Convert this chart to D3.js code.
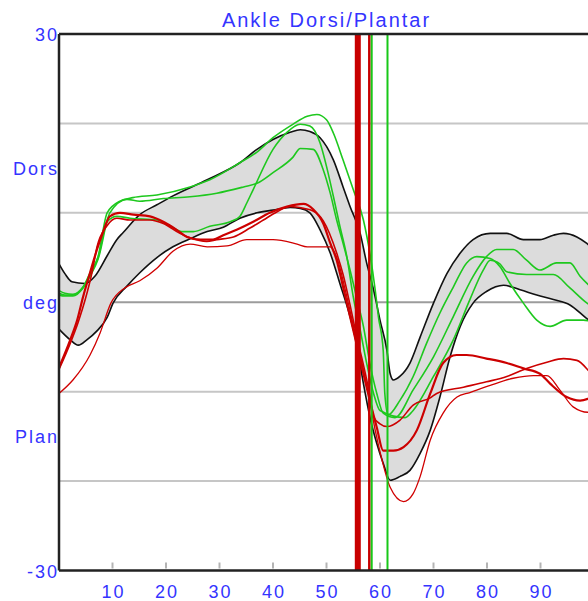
<!DOCTYPE html>
<html>
<head>
<meta charset="utf-8">
<script src="https://cdn.jsdelivr.net/npm/d3@7"></script>
<style>
  body { margin: 0; background: #fff; }
  svg { display: block; }
  text { font-family: "Liberation Sans", Arial, sans-serif; fill: #3434ff; letter-spacing: 2px; }
</style>
</head>
<body>
<svg width="588" height="601"></svg>
<script>
// Gait cycle (%) against ankle angle (deg). Each curve is a list of [pct, deg].

// Normal range band.
const bandUpper = [
  [0, 4.3], [1.1, 3.2], [2.4, 2.3], [4.9, 2.1], [6.7, 2.9], [9, 5.2], [10.8, 7], [12, 7.8],
  [15.1, 9.8], [18.3, 10.9], [21.3, 11.9], [27.7, 13.7], [33.8, 15.6], [37, 17.1], [40, 18.2],
  [43.2, 19], [45.1, 19.3], [46.9, 19.1], [48.8, 18.4], [51.3, 15.9], [53.1, 12.9], [54.4, 10.7],
  [56.3, 7.7], [57.5, 4.4], [58.8, 1.4], [60, -2], [61.3, -5.4], [61.9, -8], [62.5, -8.7],
  [63.7, -8.3], [65.6, -6.8], [67.5, -3.9], [70, -0.1], [72.5, 3.2], [75, 5.5], [77.4, 7],
  [80.6, 7.7], [83.7, 7.7], [86.8, 7], [89.9, 7], [92.4, 7.5], [94.3, 7.7], [96.8, 7.3],
  [98.6, 6.6], [100, 5.9]
];
const bandLower = [
  [0, -3], [2.1, -4.2], [3.6, -4.8], [5.2, -4.2], [7.1, -3.2], [9, -1.7], [10.1, -0.1],
  [12.7, 1.8], [15.1, 3.3], [18.3, 5], [21.3, 6.2], [24.5, 7.1], [27.7, 7.9], [30.7, 8.4],
  [33.8, 9.4], [37, 10], [40, 10.3], [43.2, 10.6], [45.1, 10.5], [46.9, 10], [48.8, 8.1],
  [50.7, 5.5], [52.5, 2.1], [54.4, -1.6], [55.6, -4.6], [56.9, -9.1], [58.1, -12.8],
  [59.4, -15.8], [60.6, -18], [61.9, -19.9], [63.7, -19.5], [65.6, -18.8], [67.5, -16.9],
  [69.4, -14.3], [71.2, -10.6], [73.1, -6.1], [75, -2.7], [77.4, -0.1], [79.9, 1.2],
  [83.1, 1.9], [86.2, 1.4], [89.3, 0.8], [92.4, 0.3], [95.5, -0.3], [98.6, -1.8], [100, -2.4]
];

// Green trials.
const green1 = [
  [0, 1.3], [1.1, 1], [2.6, 0.9], [4.5, 1.7], [5.8, 3.3], [7.3, 5.1], [9, 10], [11.4, 11.3],
  [13.8, 11.7], [18.3, 12], [24.5, 12.9], [28.2, 13.7], [33.8, 15.6], [37, 16.8], [40, 18.4],
  [43.7, 19.9], [46.4, 20.8], [48.2, 21], [50, 20.4], [51.3, 18.9], [53.1, 15.9], [55, 12.6],
  [56.9, 9.2], [58.1, 5.5], [59.1, 1.4], [59.7, -1.6], [60.6, -5.4], [60.9, -10.2], [61.5, -12.6],
  [63.7, -11], [66.2, -8.3], [68.7, -4.6], [71.2, -1.2], [73.7, 1.7], [76.2, 4.4], [78.1, 5.1],
  [80.6, 4.9], [82.4, 4], [84.3, 2.1], [86.8, -0.1], [89.3, -2], [91.8, -2.7], [94.9, -2],
  [98, -2], [100, -2.2]
];
const green2 = [
  [0, 0.8], [1.1, 0.7], [2.6, 0.7], [4.5, 1.6], [5.8, 2.9], [7.3, 4.8], [9.5, 10], [12.7, 11.5],
  [15.1, 11.3], [19.5, 11.6], [24.5, 11.8], [29.5, 12.2], [34.5, 12.9], [37, 13.3], [40, 14.5],
  [43.7, 16.2], [45.1, 17.2], [47.5, 17.1], [49.4, 14.8], [50.7, 12.2], [51.9, 9.2], [53.1, 6.6],
  [54.4, 3.6], [55.6, 0.6], [56.9, -2.7], [58.1, -6.8], [59.4, -10.2], [60.6, -12.4], [62.8, -12.9],
  [66.2, -9.8], [70, -6.1], [73.7, -1.6], [77.4, 2.9], [79.9, 5.1], [81.8, 5.9], [84.9, 5.9],
  [87.4, 4.7], [89.9, 3.6], [93, 4.4], [95.5, 4.4], [97.4, 2.9], [100, 1.4]
];
const green3 = [
  [0, 1], [1.1, 0.8], [2.6, 0.8], [4.5, 1.7], [5.8, 3.1], [7.3, 5], [9, 9], [10.8, 9.6],
  [13.3, 9.4], [18.3, 9.2], [20.8, 8.5], [23.2, 7.9], [25.1, 7.9], [28.2, 8.5], [32, 9],
  [33.8, 9.6], [35.1, 11.1], [36.3, 12.6], [40, 17.1], [42.6, 19], [45.1, 19.9], [46.9, 19.7],
  [48.8, 17.8], [50, 15.2], [51.3, 11.8], [52.5, 8.5], [53.8, 5.1], [55, 0.6], [56.3, -3.1],
  [57.5, -6.8], [58.8, -10.2], [60, -12.1], [64.7, -12.9], [66.2, -12.1], [70, -8.3],
  [73.7, -4.2], [76.8, 0.3], [79.3, 3.6], [80.6, 4.7], [82.4, 4.3], [83.7, 3.4], [87.4, 3.1],
  [92.4, 3.1], [95.5, 1.6], [98.7, -0.1], [100, -0.6]
];

// Red trials.
const red1 = [
  [0, -7.3], [2.1, -4.2], [3.4, -2], [4.5, 0.6], [5.8, 3.3], [7.1, 5.9], [8.2, 7.8], [9.5, 9.6],
  [11.4, 10], [13.9, 9.8], [17, 9.6], [19.5, 9], [22, 8.1], [23.9, 7.3], [26.4, 7], [28.8, 7],
  [30.7, 7.5], [33.2, 8.1], [36.3, 9], [39.4, 10], [42.6, 10.7], [45.7, 11], [47.5, 10.4],
  [49.4, 8.8], [50.7, 6.6], [51.9, 4.7], [53.1, 1.7], [54.4, -1.6], [55.6, -4.6], [56.9, -8],
  [58.1, -11], [59.4, -14], [60.6, -16.6], [62.5, -16.6], [64.4, -16.2], [66.9, -14.3],
  [69.4, -10.2], [71.8, -6.8], [74.3, -5.9], [76.2, -5.9], [79.9, -6.3], [83.7, -6.8],
  [86.8, -7.4], [89.9, -8], [91.8, -9.1], [94.9, -10.6], [97.4, -11], [100, -10.5]
];
const red2 = [
  [0, -7.5], [2.1, -4.6], [3.6, -2.2], [4.9, 0.3], [6.2, 3.4], [7.1, 6.2], [8.9, 8.5],
  [10.8, 9.4], [13.3, 9.2], [17, 9.2], [19.5, 8.8], [22.6, 7.7], [24.5, 7.2], [27.6, 6.8],
  [29.5, 7], [32.6, 7.3], [35.7, 8.3], [38.2, 9.2], [40.7, 10.1], [43.2, 10.7], [45.7, 10.5],
  [47.5, 10.2], [49.4, 9.1], [51.9, 5.5], [53.1, 3.1], [54.4, -0.3], [55.6, -3.7], [56.9, -7],
  [58.1, -10.4], [58.8, -12.8], [60, -13.6], [61.3, -13.9], [63.7, -13.2], [66.2, -11.5],
  [69.4, -10.7], [70.6, -10.2], [75.6, -9.5], [79.9, -8.9], [83.7, -8.3], [87.4, -7.4],
  [91.2, -6.7], [94.3, -6.3], [96.8, -6.5], [98.9, -7.6], [100, -8.4]
];
const red3 = [
  [0, -10.2], [2.6, -8.7], [5.8, -5.9], [7.7, -3.4], [9.7, -0.1], [12.3, 1.6], [15.1, 2.4],
  [18.3, 3.8], [21.3, 5.7], [24.5, 6.5], [27.7, 6.2], [31.4, 6.3], [35.1, 7], [40, 7],
  [44.5, 6.5], [46.4, 6.2], [50.7, 6.2], [52.2, 4.5], [53.5, 1.4], [54.8, -2], [56.3, -5.9],
  [57.8, -10.1], [59.1, -14.3], [60.4, -17.7], [61.9, -20.7], [64.4, -22.3], [66.2, -21.4],
  [67.5, -19.5], [69.4, -15.4], [71.8, -12.4], [74.4, -10.6], [76.8, -10.1], [80.6, -9.3],
  [84.9, -8.5], [88.7, -8.2], [91.2, -8.2], [93.6, -9.8], [96.1, -11.7], [98.9, -12.3], [100, -12.2]
];

// Toe-off markers (pct) and their stroke widths.
const toeOffRed = [55.85, 58.0];
const toeOffRedWidth = [6, 2.5];
const toeOffGreen = [58.45, 61.4];

const xTicks = [10, 20, 30, 40, 50, 60, 70, 80, 90];
const gridValues = [20, 10, -10, -20];
const yLabels = [[30, "30"], [15, "Dors"], [0, "deg"], [-15, "Plan"], [-30, "-30"]];

function initGraph() {
  const svg = d3.select("svg");

  // The plot runs on past the right edge of the picture.
  const margin = { top: 34, left: 59 };
  const width = 535;
  const height = 536.5;

  const content = svg.append("g")
    .attr("transform", "translate(" + margin.left + "," + margin.top + ")");

  return {
    svg: svg,
    content: content,
    margin: margin,
    width: width,
    height: height,
    xScale: d3.scaleLinear().domain([0, 100]).range([0, width]),
    yScale: d3.scaleLinear().domain([-30, 30]).range([height, 0]),
  };
}

function drawGrid(graph) {
  const {content, xScale, yScale, width, height} = graph;

  content.selectAll(".grid")
    .data(gridValues)
    .enter()
    .append("line")
    .attr("class", "grid")
    .attr("x1", 0)
    .attr("x2", width)
    .attr("y1", d => yScale(d))
    .attr("y2", d => yScale(d))
    .attr("stroke", "#c6c6c6")
    .attr("stroke-width", 2);

  // Zero line is a little darker.
  content.append("line")
    .attr("x1", 0)
    .attr("x2", width)
    .attr("y1", yScale(0))
    .attr("y2", yScale(0))
    .attr("stroke", "#9c9c9c")
    .attr("stroke-width", 2);

  // Small tick marks standing on the bottom border.
  content.selectAll(".tick-mark")
    .data(xTicks)
    .enter()
    .append("line")
    .attr("x1", d => xScale(d))
    .attr("x2", d => xScale(d))
    .attr("y1", height - 8)
    .attr("y2", height - 2)
    .attr("stroke", "#b4b4b4")
    .attr("stroke-width", 2);
}

function drawBand(graph) {
  const {content, xScale, yScale} = graph;

  const outline = bandUpper.concat(bandLower.slice().reverse());
  content.append("path")
    .datum(outline)
    .attr("fill", "#dcdcdc")
    .attr("d", d3.line().x(d => xScale(d[0])).y(d => yScale(d[1])));
}

function drawCurve(graph, data, color, strokeWidth) {
  const {content, xScale, yScale} = graph;
  const line = d3.line()
    .x(d => xScale(d[0]))
    .y(d => yScale(d[1]))
    .curve(d3.curveMonotoneX);

  content.append("path")
    .datum(data)
    .attr("fill", "none")
    .attr("stroke", color)
    .attr("stroke-width", strokeWidth)
    .attr("stroke-linejoin", "round")
    .attr("d", line);
}

function drawToeOff(graph) {
  const {content, xScale, height} = graph;

  content.selectAll(".toe-red")
    .data(toeOffRed)
    .enter()
    .append("line")
    .attr("x1", d => xScale(d))
    .attr("x2", d => xScale(d))
    .attr("y1", 0)
    .attr("y2", height)
    .attr("stroke", "#c80000")
    .attr("stroke-width", (d, i) => toeOffRedWidth[i]);

  content.selectAll(".toe-green")
    .data(toeOffGreen)
    .enter()
    .append("line")
    .attr("x1", d => xScale(d))
    .attr("x2", d => xScale(d))
    .attr("y1", 0)
    .attr("y2", height)
    .attr("stroke", "#18c818")
    .attr("stroke-width", 2);
}

function drawFrame(graph) {
  const {content, width, height} = graph;

  content.append("line")
    .attr("x1", 0).attr("x2", width)
    .attr("y1", 0).attr("y2", 0)
    .attr("stroke", "#222").attr("stroke-width", 2.5);

  content.append("line")
    .attr("x1", 0).attr("x2", width)
    .attr("y1", height).attr("y2", height)
    .attr("stroke", "#222").attr("stroke-width", 2.5);

  content.append("line")
    .attr("x1", 0).attr("x2", 0)
    .attr("y1", 0).attr("y2", height)
    .attr("stroke", "#222").attr("stroke-width", 2.5);
}

function drawLabels(graph) {
  const {svg, margin, xScale, yScale, width, height} = graph;

  svg.append("text")
    .attr("x", margin.left + width / 2)
    .attr("y", 27)
    .attr("text-anchor", "middle")
    .style("font-size", "20px")
    .text("Ankle Dorsi/Plantar");

  svg.selectAll(".xlabel")
    .data(xTicks)
    .enter()
    .append("text")
    .attr("x", d => margin.left + xScale(d) + 1)
    .attr("y", margin.top + height + 27)
    .attr("text-anchor", "middle")
    .style("font-size", "18px")
    .text(d => d);

  svg.selectAll(".ylabel")
    .data(yLabels)
    .enter()
    .append("text")
    .attr("x", margin.left)
    .attr("y", d => margin.top + yScale(d[0]) + 7)
    .attr("text-anchor", "end")
    .style("font-size", "18px")
    .text(d => d[1]);
}

window.addEventListener("load", function() {
  const graph = initGraph();

  drawGrid(graph);
  drawBand(graph);
  drawCurve(graph, bandUpper, "#111", 1.6);
  drawCurve(graph, bandLower, "#111", 1.6);

  drawCurve(graph, green1, "#1ec81e", 1.6);
  drawCurve(graph, green2, "#1ec81e", 1.6);
  drawCurve(graph, green3, "#1ec81e", 1.6);

  drawCurve(graph, red3, "#d00000", 1.3);
  drawCurve(graph, red2, "#cc0000", 1.6);
  drawCurve(graph, red1, "#cc0000", 2.2);

  drawToeOff(graph);
  drawFrame(graph);
  drawLabels(graph);
});
</script>
</body>
</html>
